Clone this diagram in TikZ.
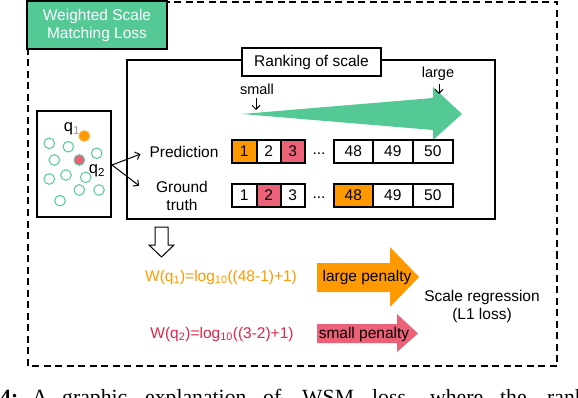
\documentclass[tikz,border=0pt]{standalone}
\usepackage{fontspec}
\setmainfont{Liberation Sans}
\newfontfamily\capserif{Liberation Serif}
\usetikzlibrary{calc,arrows.meta}
\definecolor{wsmgreen}{RGB}{84,201,150}
\definecolor{wsmorange}{RGB}{255,153,0}
\definecolor{wsmpink}{RGB}{235,97,120}
\definecolor{wsmred}{RGB}{226,36,70}
\definecolor{qgray}{RGB}{150,150,150}

\begin{document}
\begin{tikzpicture}[x=1pt,y=-1pt,font=\fontsize{15.5}{18}\selectfont,
  >={Straight Barb[length=4pt,width=8pt]},
  frame/.style={draw,line width=1.6pt},
  cell/.style={draw,line width=1.6pt,minimum height=23pt,inner sep=0pt,anchor=north west},
  dot/.style={draw=wsmgreen,line width=1pt}]
\useasboundingbox (0,0) rectangle (578,398);
\clip (0,0) rectangle (578,398);
\draw[line width=1.6pt,dash pattern=on 7pt off 4.5pt] (28,2) rectangle (557,366);
\node[frame,fill=wsmgreen,text=white,minimum width=140pt,minimum height=48pt,align=center] (title) at (97,25) {Weighted Scale\\Matching Loss};

% ranking panel
\draw[line width=1.6pt] (127,60) rectangle (495,219);
\node[frame,fill=white,minimum width=139pt,minimum height=28pt,inner sep=0pt] (rank) at (311.5,62) {Ranking of scale};
\fill[wsmgreen] (242,114) -- (433,98) -- (433,87) -- (462,114) -- (433,140) -- (433,130) -- cycle;
\node[font=\fontsize{14.5}{16}\selectfont] (small) at (257,89) {small};
\node[font=\fontsize{14.5}{16}\selectfont] (large) at (438,74) {large};
\coordinate (smalltip) at (256,110);
\coordinate (largetip) at (439,94);
\draw[->,line width=1pt] (small.south -| smalltip) -- (smalltip);
\draw[->,line width=1pt] (large.south -| largetip) -- (largetip);

\node (pred) at (184,152) {Prediction};
\node[align=center] (gt) at (182,196) {Ground\\truth};
\foreach \n/\x/\w/\c in {1/231/25/wsmorange,2/256/24/white,3/280/24/wsmpink,48/333/39/white,49/372/40/white,50/412/40/white}
  \node[cell,minimum width=\w pt,fill=\c] (p\n) at (\x,139) {\n};
\foreach \n/\x/\w/\c in {1/231/25/white,2/256/24/wsmpink,3/280/24/white,48/333/39/wsmorange,49/372/40/white,50/412/40/white}
  \node[cell,minimum width=\w pt,fill=\c] (g\n) at (\x,183) {\n};
\node (pdots) at (319,154) {...};
\node (gdots) at (319,198) {...};

% query image
\draw[line width=1.6pt] (37,111) rectangle (111,217);
\foreach \p in {(49.3,143.3),(68.3,146.7),(96.7,153.3),(54.3,160),(49.3,179),(66,175),(85.7,177.3),(79.3,190),(99,190),(60,200.7)}
  \draw[dot] \p circle (5.3pt);
\filldraw[fill=wsmorange,draw=wsmorange!80!white,line width=1pt] (84.3,136) circle (5.3pt);
\filldraw[fill=wsmpink,draw=wsmgreen,line width=1pt] (79.3,160) circle (5.3pt);
\node[inner sep=0pt,font=\fontsize{16.5}{18}\selectfont] (q1) at (72,129) {q\textsubscript{\color{qgray}1}};
\node[inner sep=0pt,font=\fontsize{16.5}{18}\selectfont] (q2) at (97,171) {q\textsubscript{2}};
\coordinate (fork) at (112,165);
\draw[->,line width=1pt,shorten >=6pt] (fork) -- (pred.west);
\draw[->,line width=1pt,shorten >=17pt] (fork) -- (gt.west);

% weights
\draw[line width=1pt,fill=white] (155,227) -- (168,227) -- (168,245) -- (174,245) -- (161.5,257) -- (149,245) -- (155,245) -- cycle;
\node[text=wsmorange] (w1) at (221,277) {W(q\textsubscript{1})=log\textsubscript{10}((48-1)+1)};
\node[text=wsmred] (w2) at (222,334) {W(q\textsubscript{2})=log\textsubscript{10}((3-2)+1)};
\fill[wsmorange] (317,263) -- (390,263) -- (390,247) -- (419,277) -- (390,307) -- (390,292) -- (317,292) -- cycle;
\fill[wsmpink] (317,324) -- (397,324) -- (397,314) -- (418,333.5) -- (397,352) -- (397,343) -- (317,343) -- cycle;
\node (lpen) at (367,277) {large penalty};
\node (spen) at (364,334) {small penalty};
\node[align=center] (reg) at (482,306) {Scale regression\\(L1 loss)};

% caption line
\foreach \x/\w in {0/\textbf{4:},32/A,62/graphic,145/explanation,263/of,302/WSM,372/{loss,},430/where,500/the,547/ranking}
  \node[anchor=base west,inner sep=0pt,font=\capserif\fontsize{21.7}{24}\selectfont] (cap\x) at (\x,404) {\w};
\end{tikzpicture}
\end{document}
